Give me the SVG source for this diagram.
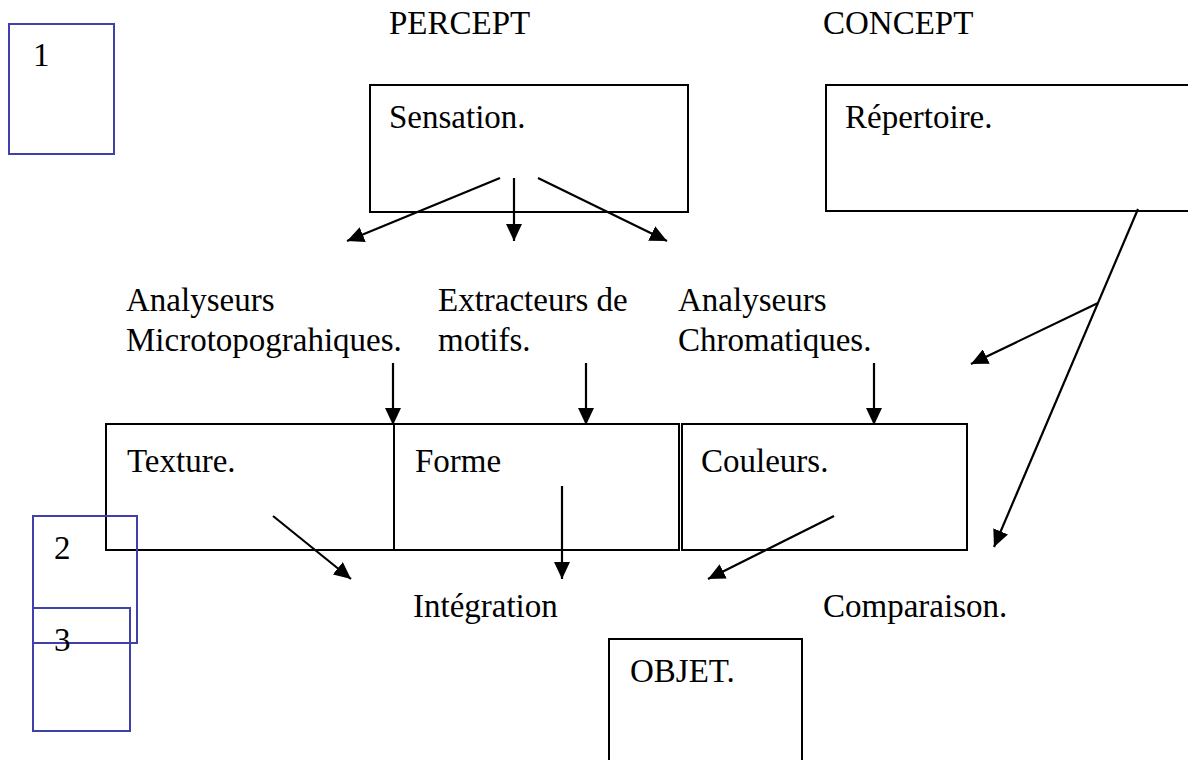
<svg xmlns="http://www.w3.org/2000/svg" width="1188" height="760" viewBox="0 0 1188 760">
<style>
text{font-family:"Liberation Serif","Times New Roman",serif;font-size:33px;fill:#000}
.box{fill:none;stroke:#000;stroke-width:2}
.blue{fill:none;stroke:#4040aa;stroke-width:2}
.arr{stroke:#000;stroke-width:2.2;fill:none;marker-end:url(#ah)}
</style>
<defs>
<marker id="ah" markerUnits="userSpaceOnUse" markerWidth="17" markerHeight="16" refX="17" refY="8" orient="auto" viewBox="0 0 17 16">
<path d="M0,0 L17,8 L0,16 z" fill="#000"/>
</marker>
</defs>
<rect width="1188" height="760" fill="#fff"/>
<text x="389" y="34">PERCEPT</text>
<text x="823" y="34">CONCEPT</text>
<g id="n1"><rect class="blue" x="9" y="24" width="105" height="130"/><text x="33" y="66">1</text></g>
<g id="sensation"><rect class="box" x="370" y="85" width="318" height="127"/><text x="389" y="128">Sensation.</text></g>
<g id="repertoire"><rect class="box" x="826" y="85" width="366" height="126"/><text x="845" y="128">Répertoire.</text></g>
<g id="analyseursMicro"><text x="126" y="311">Analyseurs</text><text x="126" y="351">Microtopograhiques.</text></g>
<g id="extracteurs"><text x="438" y="311">Extracteurs de</text><text x="438" y="351">motifs.</text></g>
<g id="analyseursChrom"><text x="678" y="311">Analyseurs</text><text x="678" y="351">Chromatiques.</text></g>
<g id="texture"><rect class="box" x="106" y="424" width="288" height="126"/><text x="127" y="472">Texture.</text></g>
<g id="forme"><rect class="box" x="394" y="424" width="285" height="126"/><text x="415" y="472">Forme</text></g>
<g id="couleurs"><rect class="box" x="682" y="424" width="285" height="126"/><text x="701" y="472">Couleurs.</text></g>
<g id="integration"><text x="413" y="617">Intégration</text></g>
<g id="comparaison"><text x="823" y="617">Comparaison.</text></g>
<g id="objet"><rect class="box" x="609" y="639" width="193" height="130"/><text x="630" y="682">OBJET.</text></g>
<g id="n2"><rect class="blue" x="33" y="516" width="104" height="127"/><text x="54" y="559">2</text></g>
<g id="n3"><rect class="blue" x="33" y="608" width="97" height="123"/><text x="54" y="651">3</text></g>
<g id="connectors">
<line class="arr" x1="500" y1="178" x2="347" y2="241"/>
<line class="arr" x1="514" y1="178" x2="514" y2="241"/>
<line class="arr" x1="538" y1="178" x2="667" y2="241"/>
<line class="arr" x1="393" y1="363" x2="393" y2="425"/>
<line class="arr" x1="586" y1="363" x2="586" y2="425"/>
<line class="arr" x1="874" y1="363" x2="874" y2="425"/>
<line class="arr" x1="1138" y1="209" x2="994" y2="547"/>
<line class="arr" x1="1098" y1="303" x2="971" y2="364"/>
<line class="arr" x1="273" y1="516" x2="351" y2="579"/>
<line class="arr" x1="562" y1="486" x2="562" y2="579"/>
<line class="arr" x1="834" y1="516" x2="708" y2="579"/>
</g>
</svg>
